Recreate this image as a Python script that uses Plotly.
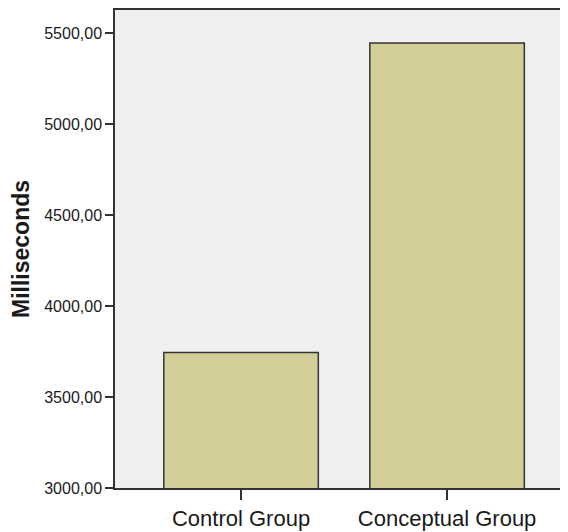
import plotly.graph_objects as go

categories = ["Control Group", "Conceptual Group"]
values = [3745, 5445]
y_ticks = [3000, 3500, 4000, 4500, 5000, 5500]

fig = go.Figure()
fig.add_trace(go.Bar(
    x=categories, y=values, width=0.75,
    marker=dict(color="#d3ce97", line=dict(color="#333333", width=1.5)),
))

fig.update_layout(
    width=560, height=524,
    margin=dict(l=107, r=0, t=2, b=44),
    paper_bgcolor="white", plot_bgcolor="#efefef",
    separators=",.",
    showlegend=False,
    font=dict(family="Liberation Sans, Arial, sans-serif", color="#1a1a1a"),
)
fig.update_xaxes(
    range=[-0.612, 1.587], showline=True, mirror=True, linecolor="#333333", linewidth=1.5,
    ticks="outside", ticklen=10, tickcolor="#333333", tickwidth=1.5,
    tickfont=dict(size=22), showgrid=False, automargin=False,
)
fig.update_yaxes(
    range=[3000, 5626], showline=True, linecolor="#333333", linewidth=1.5,
    tickvals=y_ticks, tickformat=".2f",
    ticks="outside", ticklen=8, tickcolor="#333333", tickwidth=1.5,
    tickfont=dict(size=16), showgrid=False, zeroline=False,
    title=dict(text="<b>Milliseconds</b>", font=dict(size=23), standoff=14),
)
fig.write_html("out.html")
